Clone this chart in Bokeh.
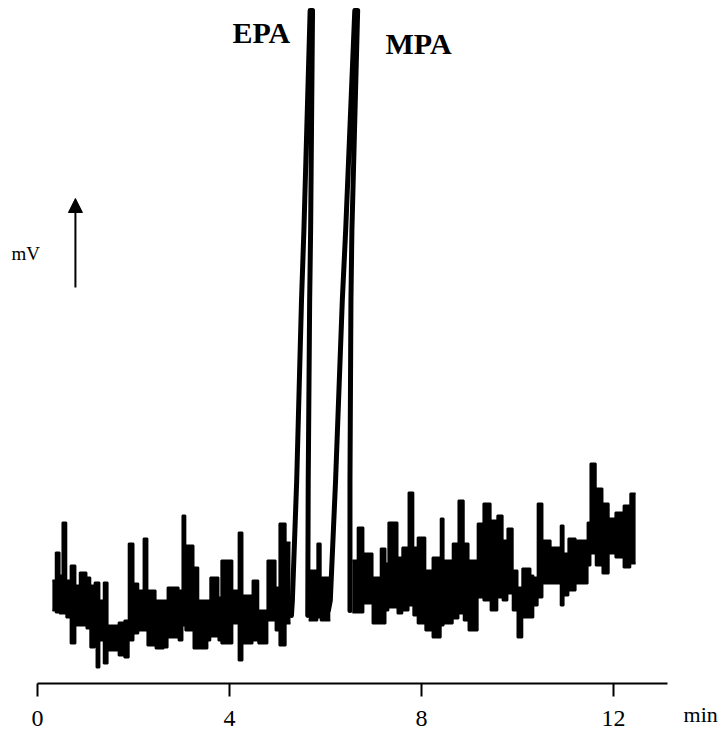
from bokeh.plotting import figure
from bokeh.models import (Range1d, FixedTicker, Label, Arrow, NormalHead, ColumnDataSource,
                          LinearAxis)
from bokeh.embed import file_html
from bokeh.resources import INLINE

# ---- data (time in min, detector signal in arbitrary mV units) ----
# noisy baseline before EPA: time, upper envelope, lower envelope
t_a = [0.31, 0.38, 0.46, 0.52, 0.60, 0.69, 0.79, 0.88, 1.02, 1.10, 1.19, 1.23, 1.29, 1.38,
       1.46, 1.69, 1.81, 1.90, 2.00, 2.10, 2.21, 2.29, 2.46, 2.63, 2.71, 2.94, 3.02, 3.08,
       3.25, 3.35, 3.54, 3.60, 3.77, 3.83, 4.06, 4.19, 4.27, 4.48, 4.60, 4.79, 4.96, 5.04,
       5.17, 5.27]
hi_a = [103, 131, 108, 161, 103, 118, 98, 111, 106, 98, 101, 101, 83, 101,
        58, 61, 63, 140, 100, 93, 145, 93, 83, 83, 96, 93, 168, 138,
        116, 83, 83, 106, 86, 123, 93, 151, 88, 103, 73, 123, 96, 160,
        141, 141]
lo_a = [73, 71, 70, 70, 66, 40, 58, 58, 55, 36, 48, 16, 43, 20,
        33, 28, 26, 43, 50, 53, 53, 38, 35, 36, 46, 43, 58, 53,
        35, 35, 43, 47, 43, 40, 60, 23, 40, 43, 40, 63, 53, 38,
        60, 60]

# baseline between the two peaks
t_b = [5.65, 5.83, 5.90, 6.10]
hi_b = [113, 140, 106, 106]
lo_b = [63, 66, 63, 63]

# baseline after MPA
t_c = [6.56, 6.67, 6.79, 6.98, 7.15, 7.25, 7.31, 7.50, 7.60, 7.73, 7.83, 7.92, 8.08, 8.23,
       8.40, 8.46, 8.65, 8.77, 8.88, 8.98, 9.17, 9.29, 9.44, 9.58, 9.69, 9.79, 9.90, 10.00,
       10.10, 10.27, 10.33, 10.42, 10.52, 10.69, 10.90, 10.96, 11.06, 11.21, 11.46, 11.52,
       11.63, 11.77, 11.90, 12.04, 12.21, 12.35, 12.46]
hi_c = [123, 156, 130, 106, 135, 120, 161, 126, 136, 191, 136, 146, 113, 126,
        165, 123, 140, 183, 140, 123, 160, 180, 163, 168, 143, 155, 113, 96,
        115, 108, 106, 180, 143, 136, 158, 130, 145, 143, 161, 220,
        195, 180, 165, 171, 178, 190, 190]
lo_c = [71, 71, 80, 60, 60, 73, 76, 70, 73, 78, 68, 60, 53, 46,
        58, 60, 65, 70, 63, 53, 86, 83, 73, 86, 83, 90, 73, 46,
        66, 66, 78, 86, 100, 100, 78, 88, 93, 100, 118, 130,
        118, 110, 130, 126, 116, 120, 120]

# EPA peak (off scale at the top)
t_epa = [5.29, 5.31, 5.40, 5.50, 5.55, 5.68, 5.73, 5.69, 5.67, 5.64, 5.63]
y_epa = [68, 83, 203, 383, 453, 673, 673, 453, 383, 203, 68]

# MPA peak (off scale at the top)
t_mpa = [6.06, 6.10, 6.21, 6.35, 6.42, 6.61, 6.67, 6.55, 6.53, 6.51, 6.51]
y_mpa = [73, 83, 203, 383, 453, 673, 673, 453, 383, 203, 73]

x_ticks = [0, 4, 8, 12]
axis_end = 13.125

SERIF = "Liberation Serif"
black = "#000000"

p = figure(width=718, height=745, output_backend="svg", toolbar_location=None,
           x_range=Range1d(-0.7708, 14.1875), y_range=Range1d(-62, 683),
           min_border=0, x_axis_location=None, y_axis_location=None)
p.outline_line_color = None
p.grid.visible = False
p.background_fill_color = "white"
p.border_fill_color = "white"

for tt, hh, ll in [(t_a, hi_a, lo_a), (t_b, hi_b, lo_b), (t_c, hi_c, lo_c)]:
    src = ColumnDataSource(dict(t=tt, hi=hh, lo=ll))
    p.varea_step(x="t", y1="lo", y2="hi", source=src, step_mode="after", fill_color=black)
    p.step(x="t", y="hi", source=src, mode="after", line_color=black, line_width=2)
    p.step(x="t", y="lo", source=src, mode="after", line_color=black, line_width=2)

p.line(t_epa, y_epa, line_color=black, line_width=5, line_join="round", line_cap="round")
p.line(t_mpa, y_mpa, line_color=black, line_width=5, line_join="round", line_cap="round")

ax = LinearAxis(fixed_location=0, bounds=(0, axis_end))
ax.ticker = FixedTicker(ticks=x_ticks)
ax.minor_tick_line_color = None
ax.axis_line_width = 2
ax.axis_line_color = black
ax.major_tick_line_width = 2
ax.major_tick_line_color = black
ax.major_tick_out = 13
ax.major_tick_in = 0
ax.major_label_standoff = 14
ax.major_label_text_font = SERIF
ax.major_label_text_font_size = "24px"
ax.major_label_text_color = black
p.add_layout(ax, "below")

p.add_layout(Label(x=13.46, y=-31, text="min", text_font=SERIF, text_font_size="22px",
                   text_color=black, text_align="left", text_baseline="alphabetic"))
p.add_layout(Label(x=4.06, y=651, text="EPA", text_font=SERIF, text_font_size="30px",
                   text_font_style="bold", text_color=black, text_align="left",
                   text_baseline="alphabetic"))
p.add_layout(Label(x=7.25, y=640, text="MPA", text_font=SERIF, text_font_size="30px",
                   text_font_style="bold", text_color=black, text_align="left",
                   text_baseline="alphabetic"))
p.add_layout(Label(x=-0.54, y=430, text="mV", text_font=SERIF, text_font_size="19px",
                   text_color=black, text_align="left", text_baseline="alphabetic"))
p.add_layout(Arrow(x_start=0.79, y_start=396, x_end=0.79, y_end=485, line_width=2,
                   line_color=black,
                   end=NormalHead(size=14, fill_color=black, line_color=black)))

open("out.html", "w").write(file_html(p, INLINE))
